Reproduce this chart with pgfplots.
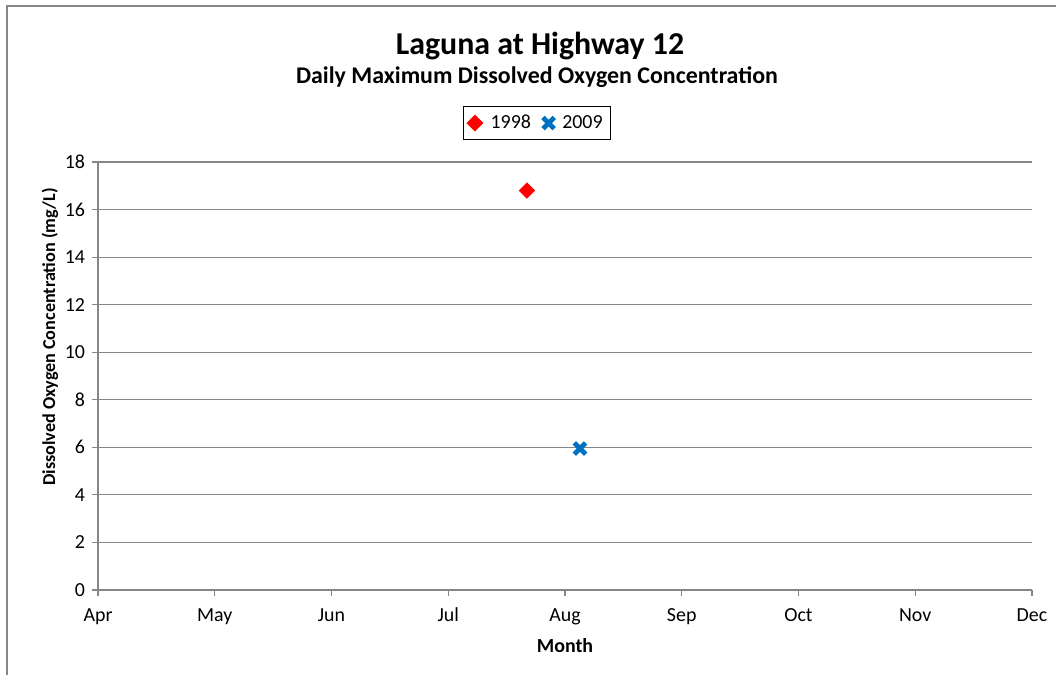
\documentclass[border=0pt]{standalone}
\usepackage{pgfplots}
\pgfplotsset{compat=1.18}
\usepackage{fontspec}
\setmainfont{Carlito}
\definecolor{gridgray}{RGB}{134,134,134}
\definecolor{xblue}{RGB}{0,112,192}
\begin{document}
\begin{tikzpicture}
\path[use as bounding box] (0,0) rectangle (528bp,337.5bp);
\draw[gridgray, line width=0.6bp] (3.5bp,-2bp) -- (3.5bp,334.5bp) -- (530bp,334.5bp);
\node[font=\fontsize{16}{19}\selectfont\bfseries] at (270bp,314.5bp) {Laguna at Highway 12};
\node[font=\fontsize{12}{14}\selectfont\bfseries] at (268.5bp,299bp) {Daily Maximum Dissolved Oxygen Concentration};
\begin{axis}[
  scale only axis,
  width=467bp, height=214bp,
  at={(49bp,42.5bp)}, anchor=south west,
  xmin=0, xmax=8, ymin=0, ymax=18,
  xtick={0,1,2,3,4,5,6,7,8},
  xticklabels={Apr,May,Jun,Jul,Aug,Sep,Oct,Nov,Dec},
  ytick={0,2,4,6,8,10,12,14,16,18},
  axis x line*=bottom, axis y line*=left,
  axis line style={gridgray, line width=0.6bp, -},
  ymajorgrids, major grid style={gridgray, line width=0.6bp},
  tick style={gridgray, line width=0.6bp},
  tick align=outside, major tick length=3bp,
  tick label style={font=\fontsize{10}{12}\selectfont},
  /pgf/number format/assume math mode=true,
  xticklabel style={yshift=-1.5bp, text height=1.6ex, text depth=0.3ex},
  xlabel={Month},
  xlabel style={font=\fontsize{10}{12}\selectfont\bfseries, yshift=-0.5bp},
  ylabel={Dissolved Oxygen Concentration (mg/L)},
  ylabel style={font=\fontsize{9.1}{11}\selectfont\bfseries, at={(axis description cs:-0.0514,0.591)}, anchor=center},
  legend columns=2,
  legend style={at={(axis description cs:0.47,1.091)}, anchor=center, draw=black, line width=0.6bp,
    font=\fontsize{10}{12}\selectfont, inner sep=2bp, column sep=2bp,
    /tikz/every even column/.append style={column sep=4bp}},
  legend cell align=left,
]
\addplot[only marks, mark=square*, mark size=2.7bp, mark options={rotate=45}, color=red, fill=red] coordinates {(3.674,16.8)};
\addlegendentry{1998}
\addplot[only marks, mark=x, mark size=4bp, color=xblue, line width=2.4bp] coordinates {(4.128,5.95)};
\addlegendentry{2009}
\end{axis}
\end{tikzpicture}
\end{document}
